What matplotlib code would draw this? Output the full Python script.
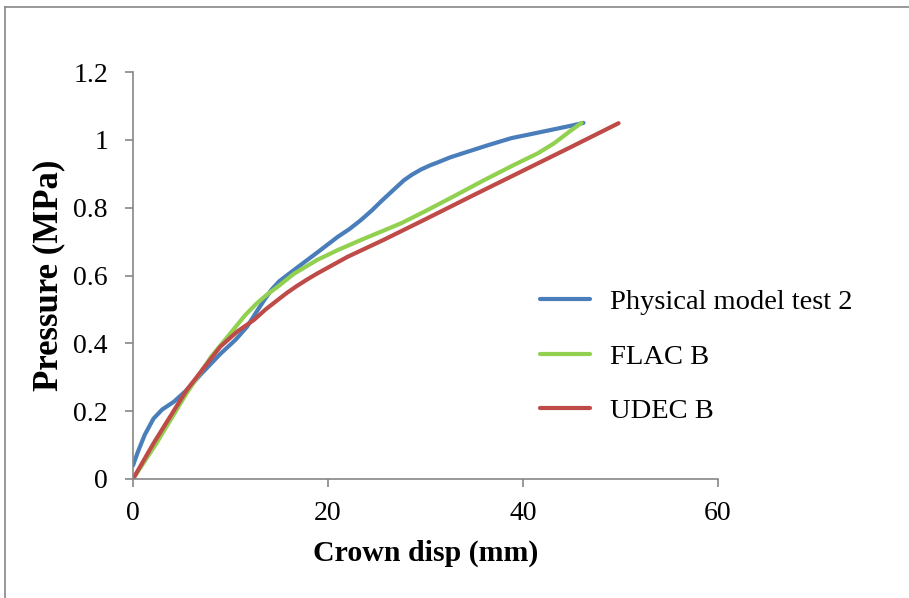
import matplotlib
matplotlib.use("Agg")
import matplotlib.pyplot as plt
from matplotlib.lines import Line2D

plt.rcParams['font.family'] = ['Liberation Serif', 'DejaVu Serif']

# Physical model test 2
phys_x = [0, 0.5, 1.2, 2.1, 3.0, 4.2, 5.5, 7.0, 9.0, 10.5, 11.7, 12.6, 13.4, 14.2, 15.0, 16.5,
          19.0, 21.0, 22.2, 23.4, 24.5, 25.5, 26.7, 27.8, 28.6, 29.5, 30.4, 31.3, 32.5, 34.0,
          36.5, 38.8, 40.5, 43.0, 45.0, 46.2]
phys_y = [0.04, 0.08, 0.13, 0.178, 0.205, 0.228, 0.262, 0.31, 0.37, 0.41, 0.449, 0.49, 0.525,
          0.558, 0.583, 0.616, 0.67, 0.714, 0.737, 0.764, 0.792, 0.82, 0.852, 0.881, 0.897,
          0.912, 0.924, 0.934, 0.948, 0.962, 0.985, 1.005, 1.015, 1.03, 1.042, 1.05]

# FLAC B
flac_x = [0, 2.4, 5.5, 8.0, 10.0, 11.5, 12.7, 13.8, 14.8, 16.5, 18.9, 21.0, 23.4, 25.5, 27.5,
          30.0, 33.0, 36.0, 39.0, 41.5, 43.2, 44.8, 46.0]
flac_y = [0, 0.105, 0.253, 0.36, 0.43, 0.483, 0.518, 0.545, 0.566, 0.605, 0.646, 0.675, 0.705,
          0.73, 0.754, 0.79, 0.835, 0.881, 0.925, 0.96, 0.99, 1.025, 1.05]

# UDEC B
udec_x = [0, 2.1, 5.5, 8.95, 10.7, 12.4, 13.6, 14.8, 15.8, 16.8, 17.9, 18.9, 22.0, 25.7, 30.0,
          35.0, 40.0, 45.0, 49.8]
udec_y = [0, 0.105, 0.262, 0.39, 0.435, 0.469, 0.5, 0.527, 0.549, 0.569, 0.589, 0.606, 0.655,
          0.705, 0.766, 0.838, 0.909, 0.98, 1.049]

labels = ["Physical model test 2", "FLAC B", "UDEC B"]
colors = ["#4A7EBB", "#92D050", "#BE4B48"]

x_ticks = [0, 20, 40, 60]
y_ticks = [0, 0.2, 0.4, 0.6, 0.8, 1.0, 1.2]
y_tick_labels = ["0", "0.2", "0.4", "0.6", "0.8", "1", "1.2"]

fig = plt.figure(figsize=(9.09, 5.98), dpi=100)
ax = fig.add_axes([133/909, 1-479/598, (718-133)/909, (479-72)/598])

for xs, ys, lab, c in zip([phys_x, flac_x, udec_x], [phys_y, flac_y, udec_y], labels, colors):
    ax.plot(xs, ys, color=c, lw=3.0, label=lab, solid_capstyle='round', solid_joinstyle='round')

ax.set_xlim(0, 60)
ax.set_ylim(0, 1.2)
ax.set_xticks(x_ticks)
ax.set_xticklabels([str(t) for t in x_ticks])
ax.set_yticks(y_ticks)
ax.set_yticklabels(y_tick_labels)

for s in ['top', 'right']:
    ax.spines[s].set_visible(False)
for s in ['left', 'bottom']:
    ax.spines[s].set_color('#868686')
    ax.spines[s].set_linewidth(1.2)
ax.tick_params(axis='both', direction='out', length=6, width=1.2, color='#868686',
               labelsize=20, labelcolor='black')
ax.tick_params(axis='x', pad=10)
ax.tick_params(axis='y', pad=12)

ax.set_xlabel("Crown disp (mm)", fontsize=21.5, fontweight='bold', labelpad=10)
ax.set_ylabel("Pressure (MPa)", fontsize=25, fontweight='bold', labelpad=6)

leg = ax.legend(loc='center left', bbox_to_anchor=(0.676, 0.30), frameon=False, fontsize=20.5,
                handlelength=1.75, handletextpad=0.7, labelspacing=1.0, borderaxespad=0)

# outer frame (only top and left edges visible)
fig.add_artist(Line2D([5/909, 5/909], [0, 1-7/598], transform=fig.transFigure, color='#868686', lw=1.2))
fig.add_artist(Line2D([5/909, 1], [1-7/598, 1-7/598], transform=fig.transFigure, color='#868686', lw=1.2))

fig.savefig("out.png", dpi=100)
